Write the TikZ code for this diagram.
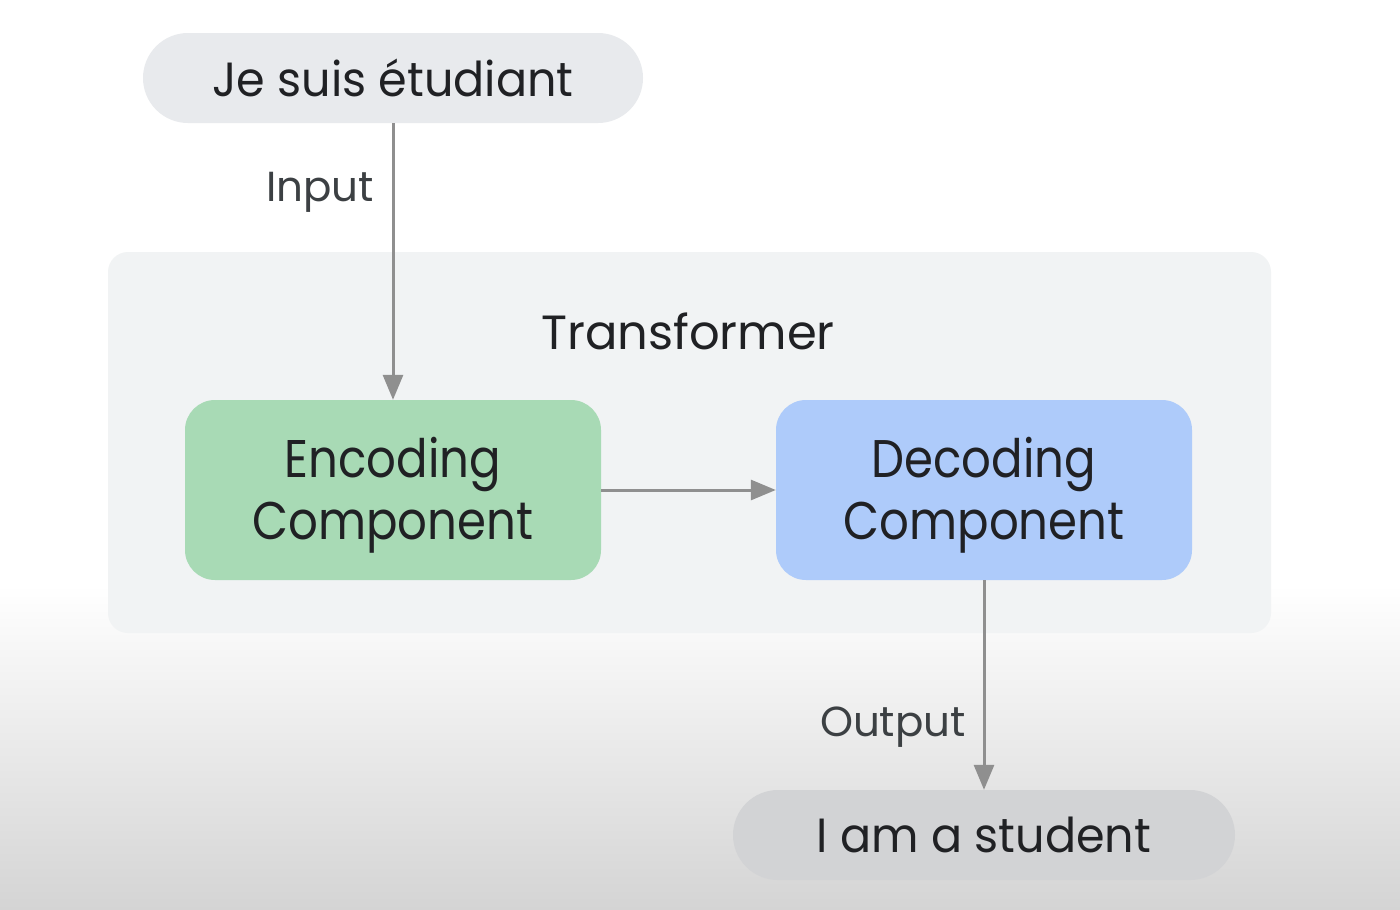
\documentclass[tikz,border=0pt]{standalone}
\usepackage{fontspec}
\setmainfont{Poppins}
\newfontfamily\pillfont[FakeStretch=0.96]{Poppins}
\newfontfamily\compfont[FakeStretch=0.88]{Poppins}
\usetikzlibrary{arrows.meta}
\definecolor{pillgray}{HTML}{E8EAED}
\definecolor{pilldark}{HTML}{D2D3D5}
\definecolor{trfill}{HTML}{F1F3F4}
\definecolor{encfill}{HTML}{A8DAB5}
\definecolor{decfill}{HTML}{AECBFA}
\definecolor{txt}{HTML}{202124}
\definecolor{lbl}{HTML}{3C4043}
\definecolor{conncol}{HTML}{8F8F8F}
\definecolor{bgbot}{HTML}{D4D4D4}
\newcommand{\comptext}[2]{\raisebox{-6pt}[\height][\depth]{\begin{tabular}{@{}c@{}}#1\\#2\end{tabular}}}
\begin{document}
\begin{tikzpicture}[x=1pt,y=-1pt,
  pill/.style={rounded corners=45pt, fill=#1, inner sep=0pt, minimum width=500pt, minimum height=90pt, text=txt, font=\pillfont\fontsize{48}{58}\selectfont},
  compbox/.style={rounded corners=30pt, fill=#1, inner sep=0pt, minimum width=416pt, minimum height=180pt, text=txt, font=\compfont\fontsize{53}{62}\selectfont},
  trbox/.style={rounded corners=20pt, fill=trfill, inner sep=0pt, minimum width=1163pt, minimum height=381pt},
  lbltext/.style={text=lbl, inner sep=0pt, font=\fontsize{42}{50}\selectfont},
  conn/.style={draw=conncol, line width=3pt, -{Triangle[width=20pt,length=25pt]}}
]
\useasboundingbox (0,0) rectangle (1400,910);
\fill[white] (0,0) rectangle (1400,586);
\shade[top color=white, bottom color=bgbot] (0,585) rectangle (1400,910);

\node[trbox] (tr) at (689.5,442.5) {};
\node[text=txt, inner sep=0pt, font=\fontsize{48}{58}\selectfont] (trl) at (688,331) {Transformer};

\node[pill=pillgray] (src) at (393,78) {Je suis étudiant};
\node[compbox=encfill] (enc) at (393,490) {\comptext{Encoding}{Component}};
\node[compbox=decfill] (dec) at (984,490) {\comptext{Decoding}{Component}};
\node[pill=pilldark, minimum width=502pt] (tgt) at (984,835) {I am a student};

\draw[conn] (src) -- (enc);
\draw[conn] (enc) -- (dec);
\draw[conn] (dec) -- (tgt);

\node[lbltext, anchor=east] (inl) at (374,192) {Input};
\node[lbltext, anchor=east] (outl) at (966,727) {Output};
\end{tikzpicture}
\end{document}
